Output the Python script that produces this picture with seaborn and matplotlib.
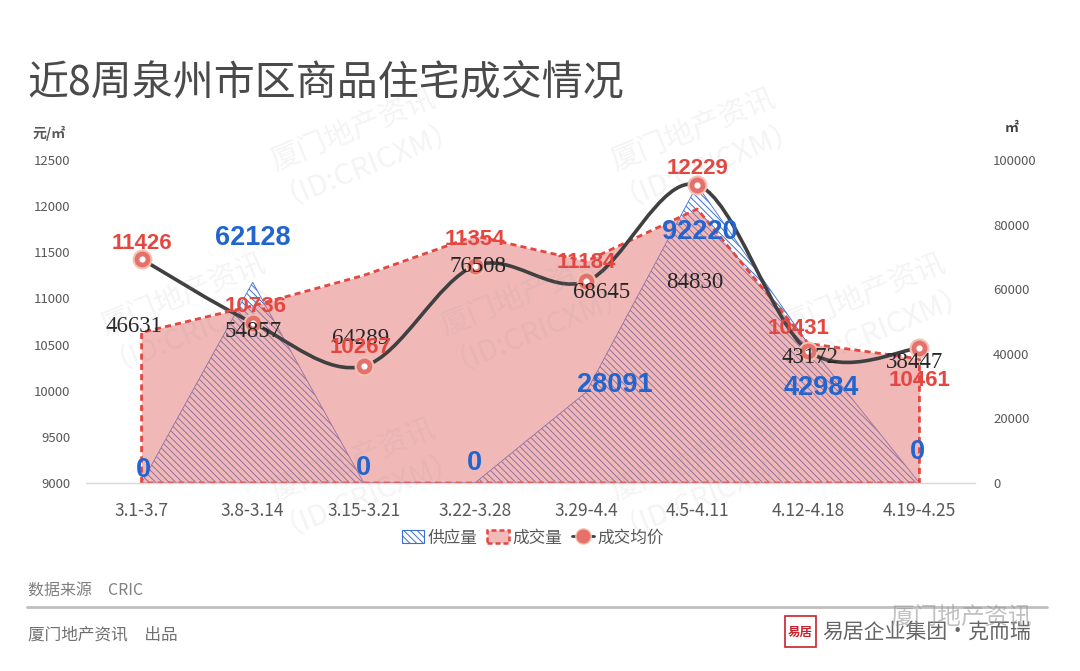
import numpy as np
import pandas as pd
import matplotlib
matplotlib.use("Agg")
import matplotlib.pyplot as plt
import seaborn as sns
from matplotlib.path import Path
from matplotlib.patches import PathPatch, Patch, Rectangle
from matplotlib.lines import Line2D

# ---------------- data ----------------
weeks = ["3.1-3.7", "3.8-3.14", "3.15-3.21", "3.22-3.28",
         "3.29-4.4", "4.5-4.11", "4.12-4.18", "4.19-4.25"]
supply = [0, 62128, 0, 0, 28091, 92220, 42984, 0]          # 供应量 ㎡
deals = [46631, 54857, 64289, 76508, 68645, 84830, 43172, 38447]  # 成交量 ㎡
price = [11426, 10736, 10267, 11354, 11184, 12229, 10431, 10461]  # 成交均价 元/㎡
price_ticks = [9000, 9500, 10000, 10500, 11000, 11500, 12000, 12500]
area_ticks = [0, 20000, 40000, 60000, 80000, 100000]

# label offsets in pixels (dx, dy with dy downward)
price_off = [(0, -16), (3, -16), (-3, -19), (0, -26), (0, -19), (0, -17), (-10, -22), (0, 32)]
deal_off = [(-8, -6), (0, 26), (-3, 63), (3, 31), (15, 31), (-2, 74), (2, 14), (-5, 4)]
supply_off = [(2, -13), (0, -44), (0, -15), (0, -20), (29, -7), (3, 47), (13, 44), (-2, -31)]

# ---------------- style ----------------
sns.set_theme(style="white")
plt.rcParams["font.family"] = ["Noto Sans CJK SC", "DejaVu Sans"]
plt.rcParams["hatch.linewidth"] = 0.7

W, H = 1080, 671
fig = plt.figure(figsize=(W / 100, H / 100), dpi=100)
fig.patch.set_facecolor("white")

ax = fig.add_axes([86 / W, 1 - 483 / H, 889 / W, 323 / H])
ax2 = ax.twinx()
ax.set_zorder(ax2.get_zorder() + 1)
ax.patch.set_visible(False)

xpos = np.arange(len(weeks))
BLUE = "#3A70D2"
RED = "#E5463F"
PINK = "#E57373"
GREY = "#595959"

# supply area (hatched)
ax2.fill_between(xpos, supply, 0, facecolor="none", edgecolor=BLUE,
                 hatch="\\\\\\\\\\", linewidth=0.6, zorder=1)
# deals area (pink translucent)
ax2.fill_between(xpos, deals, 0, color=PINK, alpha=0.5, linewidth=0, zorder=2)
outline = pd.DataFrame({"x": [0] + list(xpos) + [xpos[-1], 0],
                        "y": [0] + deals + [0, 0]})
sns.lineplot(data=outline, x="x", y="y", ax=ax2, sort=False, estimator=None,
             color=RED, linewidth=2, linestyle=(0, (2.2, 1.5)), zorder=3)


def smooth_path(xs, ys):
    P = np.column_stack([xs, ys]).astype(float)
    n = len(P)
    verts = [P[0]]
    codes = [Path.MOVETO]
    for i in range(n - 1):
        p0 = P[i - 1] if i > 0 else P[i]
        p1, p2 = P[i], P[i + 1]
        p3 = P[i + 2] if i + 2 < n else P[i + 1]
        c1 = p1 + (p2 - p0) / 6
        c2 = p2 - (p3 - p1) / 6
        verts += [c1, c2, p2]
        codes += [Path.CURVE4] * 3
    return Path(verts, codes)


ax.add_patch(PathPatch(smooth_path(xpos, price), facecolor="none",
                       edgecolor="#404040", linewidth=2.6, zorder=4,
                       capstyle="round", joinstyle="round"))
sns.scatterplot(x=xpos, y=price, ax=ax, s=165, color="#E6706A",
                edgecolor="#F3C2B4", linewidth=1.5, zorder=5, legend=False)
ax.scatter(xpos, price, s=20, color="white", zorder=6, linewidths=0)

ax.set_xlim(-0.5, len(weeks) - 0.5)
ax.set_ylim(price_ticks[0], price_ticks[-1])
ax2.set_ylim(area_ticks[0], area_ticks[-1])

# ---------------- labels ----------------
k = 0.72
for i, v in enumerate(price):
    dx, dy = price_off[i]
    ax.annotate(f"{v}", (xpos[i], v), xytext=(dx * k, -dy * k),
                textcoords="offset points", ha="center", va="center",
                fontsize=16, fontweight="bold", color=RED,
                family="Liberation Sans", zorder=8)
for i, v in enumerate(deals):
    dx, dy = deal_off[i]
    ax.annotate(f"{v}", (xpos[i], v), xycoords=ax2.transData,
                xytext=(dx * k, -dy * k), textcoords="offset points",
                ha="center", va="center", fontsize=16.5, color="#262626",
                family="Liberation Serif", zorder=7)
for i, v in enumerate(supply):
    dx, dy = supply_off[i]
    ax.annotate(f"{v}", (xpos[i], v), xycoords=ax2.transData,
                xytext=(dx * k, -dy * k), textcoords="offset points",
                ha="center", va="center", fontsize=19.5, fontweight="bold",
                color="#2265CF", family="Liberation Sans", zorder=8)

# ---------------- axes ----------------
ax.set_xticks(xpos, weeks)
ax.set_xticks(np.arange(-0.5, len(weeks), 1), minor=True)
ax.tick_params(axis="x", which="major", length=0, pad=13.5, labelsize=12.5,
               labelcolor=GREY)
ax.tick_params(axis="x", which="minor", length=5, width=1, color="#D9D9D9",
               direction="out")
ax.set_yticks(price_ticks, [str(t) for t in price_ticks])
ax.tick_params(axis="y", length=0, pad=11.5, labelsize=9.5, labelcolor=GREY)
ax2.set_yticks(area_ticks, [str(t) for t in area_ticks])
ax2.tick_params(axis="y", length=0, pad=13, labelsize=9.5, labelcolor=GREY)
for a in (ax, ax2):
    for s in a.spines.values():
        s.set_visible(False)
    a.set_xlabel("")
    a.set_ylabel("")
    a.grid(False)
ax.spines["bottom"].set_visible(True)
ax.spines["bottom"].set_color("#D9D9D9")
ax.spines["bottom"].set_linewidth(1)

# ---------------- legend ----------------
handles = [
    Patch(facecolor="white", edgecolor=BLUE, hatch="\\\\\\\\\\", linewidth=0.8),
    Patch(facecolor="#F2B9B9", edgecolor=RED, linestyle=(0, (2, 1.2)), linewidth=1.8),
    Line2D([0], [0], color="#404040", lw=2, marker="o", markersize=11,
           markerfacecolor="#E6706A", markeredgecolor="#F3C2B4"),
]
fig.legend(handles, ["供应量", "成交量", "成交均价"], loc="center",
           bbox_to_anchor=(533 / W, 1 - 538 / H), ncol=3, frameon=False,
           fontsize=12, handlelength=1.3, handleheight=0.8, handletextpad=0.2,
           columnspacing=0.6, labelcolor=GREY)

# ---------------- texts ----------------
fig.text(27 / W, 1 - 83 / H, "近8周泉州市区商品住宅成交情况", fontsize=29.5,
         color="#4A4A4A", va="center", ha="left")
fig.text(33 / W, 1 - 133 / H, "元/㎡", fontsize=10, color=GREY,
         va="center", ha="left", fontweight="bold")
fig.text(1012 / W, 1 - 128 / H, "㎡", fontsize=10, color="#404040",
         va="center", ha="center", fontweight="bold")
fig.text(28 / W, 1 - 591 / H, "数据来源　CRIC", fontsize=11.5, color="#808080",
         va="center", ha="left")
fig.add_artist(Line2D([27 / W, 1047 / W], [1 - 607 / H, 1 - 607 / H],
                      color="#BFBFBF", lw=2))
fig.text(28 / W, 1 - 635 / H, "厦门地产资讯　出品", fontsize=12, color="#707070",
         va="center", ha="left")

# bottom-right logo
fig.add_artist(Rectangle((785 / W, 1 - 647 / H), 31 / W, 31 / H,
                         facecolor="white", edgecolor="#C8232C", lw=1.2))
fig.text(800 / W, 1 - 632 / H, "易居", fontsize=9, color="#C8232C",
         va="center", ha="center", fontweight="bold")
fig.text(822 / W, 1 - 632 / H, "易居企业集团·克而瑞", fontsize=15, color="#666666",
         va="center", ha="left")
fig.text(890 / W, 1 - 617 / H, "厦门地产资讯", fontsize=17, color="#999999",
         alpha=0.6, va="center", ha="left")

# watermark (only fully inside the picture)
for j, y0 in enumerate(range(-20, 720, 165)):
    for x0 in range(-150 + (j % 2) * 170, 1200, 340):
        if 120 <= x0 <= W - 120 and 70 <= y0 <= H - 70:
            fig.text(x0 / W, 1 - y0 / H, "厦门地产资讯\n（ID:CRICXM）",
                     fontsize=21, color="#9A9A9A", alpha=0.11, rotation=22,
                     rotation_mode="anchor", ha="center", va="center",
                     multialignment="center", zorder=20, linespacing=1.1)

fig.savefig("out.png", dpi=100, facecolor="white")
